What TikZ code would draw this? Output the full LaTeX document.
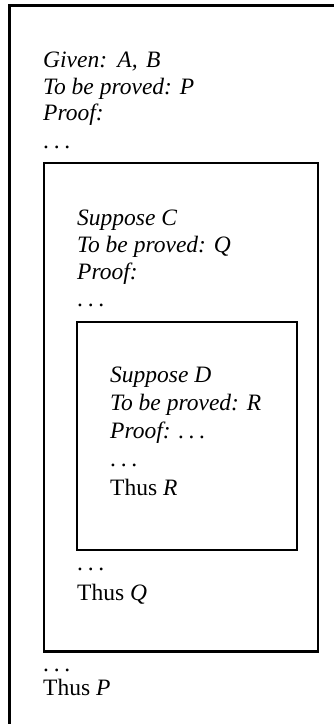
\documentclass[tikz,border=0pt]{standalone}
\usepackage{fontspec}
\setmainfont{Liberation Serif}
\newcommand{\mydots}{.\kern.2em.\kern.2em.}
\begin{document}
\begin{tikzpicture}[x=1bp,y=-1bp,
  txt/.style={anchor=base west,inner sep=0pt,font=\fontsize{23.5bp}{26bp}\selectfont},
  it/.style={anchor=base west,inner sep=0pt,font=\fontsize{23.5bp}{26bp}\selectfont\itshape},
  thick box/.style={draw,line width=2.7bp},
  thin box/.style={draw,line width=2bp}]
\useasboundingbox (0,0) rectangle (333,724);
% outer box (cropped at right and bottom)
\coordinate (obl) at (9.5,740);
\coordinate (otl) at (9.5,5.5);
\coordinate (otr) at (350,5.5);
\draw[thick box] (obl) -- (otl) -- (otr);
% middle box
\coordinate (mtl) at (44,163);
\coordinate (mbr) at (318,651.5);
\draw[thick box] (mtl) rectangle (mbr);
% inner box
\coordinate (itl) at (77,321.5);
\coordinate (ibr) at (297,549.5);
\draw[thin box] (itl) rectangle (ibr);
% outer text
\node[it] (o1) at (43,68) {Given:\hspace{2.5bp} A,\hspace{2.5bp} B};
\node[it] (o2) at (43,94.5) {To be proved: P};
\node[it] (o3) at (43,121) {Proof:};
\node[txt] (o4) at (43,148) {\mydots};
\node[txt] (o5) at (43,671) {\mydots};
\node[txt] (o6) at (43,695.5) {Thus \textit{P}};
% middle text
\node[it] (m1) at (77,225) {Suppose C};
\node[it] (m2) at (77,252) {To be proved: Q};
\node[it] (m3) at (77,279) {Proof:};
\node[txt] (m4) at (77,306) {\mydots};
\node[txt] (m5) at (77,570) {\mydots};
\node[txt] (m6) at (77,600.5) {Thus \textit{Q}};
% inner text
\node[it] (i1) at (110,382) {Suppose D};
\node[it] (i2) at (110,410) {To be proved: R};
\node[it] (i3) at (110,438) {Proof: \mydots};
\node[txt] (i4) at (110,466) {\mydots};
\node[txt] (i5) at (110,495) {Thus \textit{R}};
\end{tikzpicture}
\end{document}
